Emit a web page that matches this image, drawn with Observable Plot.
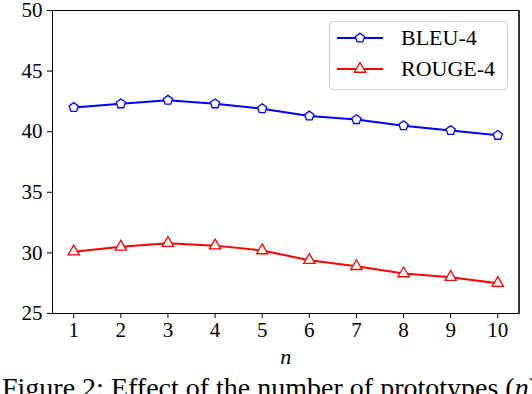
<!DOCTYPE html>
<html>
<head>
<meta charset="utf-8">
<script src="https://cdn.jsdelivr.net/npm/d3@7"></script>
<script src="https://cdn.jsdelivr.net/npm/@observablehq/plot@0.6"></script>
<style>
  html, body { margin: 0; padding: 0; background: white; }
  #wrap { position: relative; width: 532px; height: 394px; overflow: hidden; background: white; }
  #chart { position: absolute; left: 0; top: 0; }
  #legend {
    position: absolute; left: 329px; top: 21px; width: 177px; height: 67px;
    border: 1px solid #d0d0d0; border-radius: 4px; background: rgba(255,255,255,0.8);
    font-family: "Liberation Serif", serif; font-size: 22px; color: black;
  }
  .row { position: absolute; left: 0; height: 20px; }
  .row svg { position: absolute; left: 0; top: 0; overflow: visible; }
  .row span { position: absolute; left: 71px; top: -2px; line-height: 24px; white-space: nowrap; }
  #caption {
    position: absolute; left: 2px; top: 374px; white-space: nowrap;
    font-family: "Liberation Serif", serif; font-size: 28px; line-height: 28px; color: black;
  }
</style>
</head>
<body>
<div id="wrap">
  <div id="chart"></div>
  <div id="legend"></div>
  <div id="caption">Figure 2: Effect of the number of prototypes (<i>n</i>)</div>
</div>
<script>
// ---- data ----
const nValues = [1, 2, 3, 4, 5, 6, 7, 8, 9, 10];
const bleu4 = [42.0, 42.3, 42.6, 42.3, 41.9, 41.3, 41.0, 40.5, 40.1, 39.7];
const rouge4 = [30.1, 30.5, 30.8, 30.6, 30.2, 29.4, 28.9, 28.3, 28.0, 27.5];
const yTicks = [25, 30, 35, 40, 45, 50];
const seriesNames = ["BLEU-4", "ROUGE-4"];
const seriesColors = ["#0000ff", "#ff0000"];
const xLabel = "n";

const xDomain = [0.55, 10.45];
const yDomain = [25, 50];
const serif = "Liberation Serif";

// pentagon symbol (matplotlib "p")
const pentagon = {
  draw(context, size) {
    const r = Math.sqrt(size / 2.378);
    for (let k = 0; k < 5; ++k) {
      const a = -Math.PI / 2 + k * 2 * Math.PI / 5;
      const x = r * Math.cos(a), y = r * Math.sin(a);
      if (k === 0) context.moveTo(x, y); else context.lineTo(x, y);
    }
    context.closePath();
  }
};
const symbols = [pentagon, d3.symbolTriangle];

const bleuData = nValues.map((n, i) => ({n, v: bleu4[i]}));
const rougeData = nValues.map((n, i) => ({n, v: rouge4[i]}));
const tables = [bleuData, rougeData];

const seriesMarks = tables.flatMap((t, i) => [
  Plot.line(t, {x: "n", y: "v", stroke: seriesColors[i], strokeWidth: 2}),
  Plot.dot(t, {x: "n", y: "v", symbol: symbols[i], r: 4.2, stroke: seriesColors[i], fill: "white", strokeWidth: 1.3})
]);

const chart = Plot.plot({
  width: 532,
  height: 370,
  marginLeft: 52,
  marginRight: 13.5,
  marginTop: 10,
  marginBottom: 57,
  style: {fontSize: "21px", color: "black", background: "white", overflow: "visible"},
  x: {domain: xDomain, label: null},
  y: {domain: yDomain, label: null},
  marks: [
    Plot.axisY({ticks: yTicks, tickSize: 5, tickPadding: 5, fontSize: 21, label: null}),
    Plot.axisX({ticks: nValues, tickSize: 5, tickPadding: 4, fontSize: 21, label: null}),
    Plot.text([xLabel], {frameAnchor: "bottom", dy: 43, fontStyle: "italic", fontSize: 22, lineAnchor: "middle"}),
    ...seriesMarks,
    Plot.frame({stroke: "black", strokeWidth: 1}),
    Plot.ruleX([xDomain[1]], {stroke: "#333", strokeWidth: 2})
  ]
});
// force the serif face onto every SVG text element (inline style + attribute)
const svgRoot = d3.select(chart);
svgRoot.attr("font-family", serif).style("font-family", `"${serif}", serif`);
svgRoot.selectAll("g").attr("font-family", null);
svgRoot.selectAll("text")
  .attr("font-family", serif)
  .style("font-family", `"${serif}", serif`)
  .style("font-variant", "normal");
document.getElementById("chart").appendChild(chart);

// legend built from the series arrays
const legend = d3.select("#legend");
seriesNames.forEach((name, i) => {
  const row = legend.append("div").attr("class", "row").style("top", (6 + i * 31) + "px").style("width", "170px");
  const svg = row.append("svg").attr("width", 60).attr("height", 20);
  svg.append("line").attr("x1", 7).attr("x2", 53).attr("y1", 10).attr("y2", 10)
    .attr("stroke", seriesColors[i]).attr("stroke-width", 2);
  svg.append("path").attr("transform", "translate(30,10)")
    .attr("d", d3.symbol(symbols[i], Math.PI * 4.2 * 4.2)())
    .attr("fill", "white").attr("stroke", seriesColors[i]).attr("stroke-width", 1.3);
  row.append("span").text(name);
});
</script>
</body>
</html>
